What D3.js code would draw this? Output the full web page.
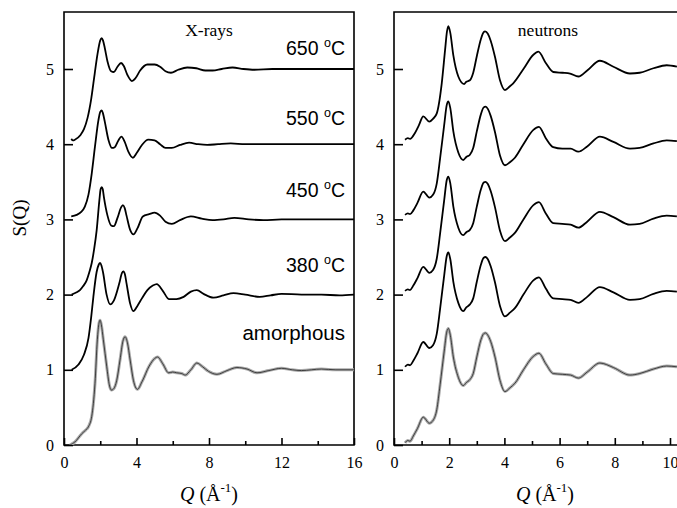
<!DOCTYPE html>
<html>
<head>
<meta charset="utf-8">
<script src="https://cdn.jsdelivr.net/npm/d3@7"></script>
<style>
  html, body { margin: 0; padding: 0; background: #fff; }
  svg { display: block; }
</style>
</head>
<body>
<svg id="chart" width="677" height="508"></svg>
<script>
// ---- Data: S(Q) curves, [Q (1/Å), S(Q)] before vertical offset ----
const sampleLabels = ["amorphous", "380", "450", "550", "650"];
const offsets = [0, 1, 2, 3, 4];

const xrayAmorphous = [[0.33,0.0],[0.6,0.04],[0.98,0.15],[1.2,0.2],[1.34,0.24],[1.53,0.38],[1.71,0.82],[1.84,1.40],[1.93,1.62],[1.99,1.66],[2.06,1.60],[2.17,1.40],[2.36,1.04],[2.5,0.8],[2.62,0.73],[2.75,0.75],[2.91,0.86],[3.09,1.13],[3.25,1.38],[3.37,1.44],[3.5,1.36],[3.65,1.13],[3.83,0.86],[4.05,0.74],[4.3,0.84],[4.7,1.05],[5.0,1.15],[5.16,1.17],[5.45,1.08],[5.77,0.96],[6.0,0.97],[6.22,0.96],[6.5,0.95],[6.69,0.93],[7.0,1.0],[7.33,1.09],[7.65,1.04],[7.97,0.98],[8.44,0.94],[9.0,0.99],[9.54,1.03],[10.1,1.01],[10.65,0.96],[11.3,0.99],[12.0,1.02],[12.6,1.0],[13.1,0.99],[14.2,1.01],[15.0,1.0],[16.0,1.0]];

const xray380 = [[0.42,0.0],[0.8,0.07],[1.1,0.2],[1.35,0.42],[1.5,0.7],[1.62,0.97],[1.8,1.3],[1.92,1.40],[1.99,1.42],[2.06,1.39],[2.15,1.3],[2.35,1.0],[2.55,0.87],[2.75,0.92],[3.05,1.15],[3.2,1.29],[3.28,1.31],[3.36,1.27],[3.45,1.15],[3.65,0.88],[3.83,0.78],[4.05,0.85],[4.3,0.95],[4.6,1.06],[4.9,1.12],[5.12,1.14],[5.45,1.05],[5.8,0.94],[6.2,0.94],[6.6,0.97],[7.0,1.04],[7.33,1.06],[7.7,1.01],[8.25,0.96],[8.8,0.99],[9.35,1.02],[10.0,1.0],[10.8,0.97],[11.4,0.99],[12.0,1.01],[13.1,1.0],[14.2,1.0],[15.2,0.99],[16.0,1.0]];

const xray450 = [[0.42,0.0],[0.7,0.03],[0.88,0.06],[1.05,0.11],[1.25,0.19],[1.4,0.3],[1.53,0.42],[1.66,0.6],[1.8,0.85],[1.95,1.25],[2.02,1.40],[2.08,1.43],[2.14,1.40],[2.2,1.3],[2.4,1.05],[2.6,0.92],[2.75,0.91],[2.95,1.02],[3.15,1.16],[3.25,1.19],[3.35,1.15],[3.45,1.05],[3.65,0.86],[3.83,0.8],[4.05,0.88],[4.35,1.04],[4.7,1.07],[5.0,1.09],[5.3,1.05],[5.6,0.97],[5.95,0.94],[6.4,0.99],[7.0,1.04],[7.6,1.01],[8.2,0.99],[8.8,1.0],[9.4,1.02],[10.2,1.0],[11.0,0.99],[12.0,1.0],[13.0,1.0],[14.0,1.0],[16.0,1.0]];

const xray550 = [[0.4,0.04],[0.7,0.06],[0.95,0.1],[1.15,0.17],[1.35,0.33],[1.53,0.61],[1.71,0.97],[1.9,1.32],[2.0,1.43],[2.08,1.45],[2.15,1.41],[2.25,1.3],[2.45,1.06],[2.65,0.95],[2.8,0.96],[3.0,1.05],[3.17,1.1],[3.35,1.03],[3.55,0.9],[3.8,0.82],[4.0,0.88],[4.3,0.99],[4.65,1.06],[5.0,1.05],[5.3,1.0],[5.6,0.95],[5.95,0.95],[6.4,0.99],[6.9,1.02],[7.4,1.0],[7.9,0.99],[8.5,1.0],[9.2,1.01],[10.0,1.0],[11.0,1.0],[12.5,1.0],[14.0,1.0],[16.0,1.0]];

const xray650 = [[0.4,0.07],[0.5,0.05],[0.6,0.06],[0.9,0.12],[1.1,0.2],[1.3,0.35],[1.5,0.6],[1.7,0.95],[1.85,1.2],[2.0,1.38],[2.08,1.41],[2.15,1.38],[2.25,1.28],[2.4,1.1],[2.6,0.97],[2.75,0.96],[2.95,1.03],[3.15,1.08],[3.3,1.04],[3.5,0.92],[3.75,0.84],[3.95,0.88],[4.2,0.98],[4.6,1.06],[5.0,1.06],[5.3,1.03],[5.6,0.97],[5.9,0.95],[6.3,0.99],[6.8,1.02],[7.3,1.01],[7.8,0.98],[8.2,0.98],[8.7,1.0],[9.3,1.02],[9.9,1.0],[10.5,0.99],[11.5,1.0],[12.5,1.0],[13.5,1.0],[14.5,1.0],[16.0,1.0]];

const neutronAmorphous = [[0.4,0.03],[0.5,0.06],[0.58,0.05],[0.7,0.12],[0.85,0.22],[1.06,0.37],[1.28,0.29],[1.42,0.33],[1.55,0.47],[1.67,0.8],[1.82,1.25],[1.91,1.5],[1.97,1.55],[2.04,1.46],[2.15,1.17],[2.33,0.9],[2.51,0.79],[2.62,0.83],[2.75,0.87],[2.87,0.95],[3.0,1.17],[3.15,1.4],[3.25,1.48],[3.32,1.49],[3.4,1.46],[3.5,1.38],[3.66,1.17],[3.84,0.86],[4.02,0.71],[4.2,0.76],[4.38,0.82],[4.69,1.0],[5.05,1.18],[5.25,1.22],[5.5,1.08],[5.77,0.95],[6.1,0.94],[6.4,0.93],[6.68,0.89],[7.0,0.97],[7.46,1.09],[7.95,1.03],[8.55,0.93],[8.9,0.95],[9.4,1.01],[9.88,1.05],[10.25,1.04]];

const neutron380 = [[0.4,0.04],[0.5,0.07],[0.58,0.06],[0.7,0.12],[0.85,0.22],[1.06,0.37],[1.28,0.29],[1.42,0.33],[1.55,0.48],[1.67,0.81],[1.82,1.26],[1.91,1.51],[1.97,1.56],[2.04,1.47],[2.15,1.17],[2.33,0.89],[2.51,0.78],[2.62,0.83],[2.75,0.87],[2.87,0.95],[3.0,1.17],[3.15,1.4],[3.25,1.49],[3.32,1.50],[3.4,1.47],[3.5,1.38],[3.66,1.16],[3.84,0.85],[4.02,0.71],[4.2,0.76],[4.38,0.82],[4.69,1.0],[5.05,1.19],[5.25,1.23],[5.5,1.08],[5.77,0.95],[6.1,0.94],[6.4,0.93],[6.68,0.89],[7.0,0.97],[7.46,1.10],[7.95,1.03],[8.55,0.93],[8.9,0.94],[9.4,1.01],[9.88,1.05],[10.25,1.04]];

const neutron450 = [[0.4,0.05],[0.5,0.07],[0.58,0.06],[0.7,0.12],[0.85,0.22],[1.06,0.37],[1.28,0.29],[1.42,0.33],[1.55,0.48],[1.67,0.81],[1.82,1.26],[1.91,1.52],[1.97,1.57],[2.04,1.48],[2.15,1.17],[2.33,0.89],[2.51,0.79],[2.62,0.83],[2.75,0.86],[2.87,0.95],[3.0,1.17],[3.15,1.4],[3.25,1.49],[3.32,1.50],[3.4,1.47],[3.5,1.38],[3.66,1.16],[3.84,0.85],[4.02,0.71],[4.2,0.76],[4.38,0.82],[4.69,1.0],[5.05,1.19],[5.25,1.23],[5.5,1.08],[5.77,0.95],[6.1,0.94],[6.4,0.93],[6.68,0.89],[7.0,0.97],[7.46,1.10],[7.95,1.03],[8.55,0.93],[8.9,0.94],[9.4,1.01],[9.88,1.05],[10.25,1.04]];

const neutron550 = [[0.4,0.06],[0.5,0.08],[0.58,0.07],[0.7,0.12],[0.85,0.22],[1.06,0.37],[1.28,0.29],[1.42,0.33],[1.55,0.48],[1.67,0.81],[1.82,1.26],[1.91,1.52],[1.97,1.57],[2.04,1.48],[2.15,1.17],[2.33,0.89],[2.51,0.79],[2.62,0.83],[2.75,0.86],[2.87,0.95],[3.0,1.17],[3.15,1.4],[3.25,1.49],[3.32,1.50],[3.4,1.47],[3.5,1.38],[3.66,1.16],[3.84,0.85],[4.02,0.72],[4.2,0.76],[4.38,0.82],[4.69,1.0],[5.05,1.19],[5.25,1.23],[5.5,1.08],[5.77,0.96],[6.1,0.94],[6.4,0.94],[6.68,0.90],[7.0,0.97],[7.46,1.10],[7.95,1.03],[8.55,0.94],[8.9,0.95],[9.4,1.01],[9.88,1.05],[10.25,1.04]];

const neutron650 = [[0.4,0.06],[0.5,0.08],[0.58,0.07],[0.76,0.15],[0.9,0.25],[1.06,0.37],[1.28,0.30],[1.42,0.34],[1.55,0.41],[1.73,0.81],[1.85,1.25],[1.92,1.50],[1.97,1.57],[2.04,1.48],[2.15,1.18],[2.33,0.90],[2.54,0.80],[2.62,0.83],[2.75,0.85],[2.87,0.95],[3.0,1.17],[3.15,1.4],[3.25,1.49],[3.30,1.50],[3.4,1.47],[3.5,1.38],[3.66,1.16],[3.84,0.85],[4.02,0.72],[4.2,0.77],[4.32,0.81],[4.69,1.0],[5.05,1.19],[5.23,1.23],[5.5,1.08],[5.77,0.96],[6.1,0.95],[6.38,0.94],[6.68,0.90],[7.0,0.98],[7.46,1.11],[7.95,1.03],[8.55,0.94],[8.9,0.95],[9.4,1.01],[9.88,1.05],[10.25,1.03]];

const xraySeries = [xrayAmorphous, xray380, xray450, xray550, xray650];
const neutronSeries = [neutronAmorphous, neutron380, neutron450, neutron550, neutron650];

// ---- Axis ticks ----
const yTicks = [0, 1, 2, 3, 4, 5];
const xrayMajorTicks = [0, 4, 8, 12, 16];
const xrayMinorTicks = [2, 6, 10, 14];
const neutronMajorTicks = [0, 2, 4, 6, 8, 10];
const neutronMinorTicks = [1, 3, 5, 7, 9];

// ---- Layout ----
const svg = d3.select("#chart");
const plotTop = 12, plotBottom = 445;
const y = d3.scaleLinear().domain([0, 5.758]).range([plotBottom, plotTop]);

const serif = "'Liberation Serif', 'Times New Roman', serif";
const sans = "'Liberation Sans', Arial, sans-serif";

function drawPanel(opts) {
  const x = d3.scaleLinear().domain(opts.domain).range([opts.left, opts.right]);
  const g = svg.append("g");

  // bottom axis: major and minor inward ticks
  const axMajor = g.append("g").attr("transform", `translate(0,${plotBottom})`)
    .call(d3.axisBottom(x).tickValues(opts.major).tickSizeInner(-7).tickSizeOuter(0).tickPadding(12).tickFormat(d3.format("d")));
  const axMinor = g.append("g").attr("transform", `translate(0,${plotBottom})`)
    .call(d3.axisBottom(x).tickValues(opts.minor).tickSizeInner(-4).tickSizeOuter(0).tickFormat(""));
  const axY = g.append("g").attr("transform", `translate(${opts.left},0)`)
    .call(d3.axisLeft(y).tickValues(yTicks).tickSizeInner(-9).tickSizeOuter(0).tickPadding(10).tickFormat(d3.format("d")));

  [axMajor, axMinor, axY].forEach(a => {
    a.select(".domain").remove();
    a.selectAll(".tick line").attr("stroke", "#000").attr("stroke-width", 1.6);
    a.selectAll("text").attr("font-family", serif).attr("font-size", 16).attr("fill", "#000");
  });

  // frame
  g.append("path")
    .attr("d", `M${opts.left},${plotBottom}V${plotTop}H${opts.right}V${plotBottom}Z`)
    .attr("fill", "none").attr("stroke", "#000").attr("stroke-width", 1.6);

  const clipId = "clip-" + opts.name;
  svg.append("clipPath").attr("id", clipId).append("rect")
    .attr("x", opts.left).attr("y", plotTop).attr("width", opts.right - opts.left).attr("height", plotBottom - plotTop);

  const curves = g.append("g").attr("clip-path", `url(#${clipId})`);
  opts.series.forEach((data, i) => {
    const line = d3.line()
      .x(d => x(d[0]))
      .y(d => y(d[1] + offsets[i]))
      .curve(d3.curveMonotoneX);
    if (i === 0) {
      // measured data (grey) with the fitted curve drawn over it
      curves.append("path").datum(data).attr("d", line)
        .attr("fill", "none").attr("stroke", "#ababab").attr("stroke-width", 3)
        .attr("stroke-linejoin", "round");
      curves.append("path").datum(data).attr("d", line)
        .attr("fill", "none").attr("stroke", "#222").attr("stroke-width", 0.8)
        .attr("stroke-linejoin", "round");
    } else {
      curves.append("path").datum(data).attr("d", line)
        .attr("fill", "none").attr("stroke", "#000").attr("stroke-width", 1.8)
        .attr("stroke-linejoin", "round");
    }
  });

  // panel title
  g.append("text").attr("x", opts.titleX).attr("y", 36)
    .attr("text-anchor", "middle")
    .attr("font-family", serif).attr("font-size", 17.5).text(opts.title);

  // x-axis title: Q (Å⁻¹)
  const xt = g.append("text").attr("x", opts.xTitleX).attr("y", 501)
    .attr("text-anchor", "middle").attr("font-family", serif).attr("font-size", 20);
  xt.append("tspan").attr("font-style", "italic").text("Q");
  xt.append("tspan").text(" (Å");
  xt.append("tspan").attr("font-size", 13).attr("dy", -9).text("-1");
  xt.append("tspan").attr("dy", 9).text(")");

  return x;
}

drawPanel({
  name: "xray", left: 64, right: 354, domain: [0, 16],
  major: xrayMajorTicks, minor: xrayMinorTicks,
  series: xraySeries, title: "X-rays", titleX: 209, xTitleX: 209
});
drawPanel({
  name: "neutron", left: 394, right: 678, domain: [0, 10.29],
  major: neutronMajorTicks, minor: neutronMinorTicks,
  series: neutronSeries, title: "neutrons", titleX: 548, xTitleX: 545
});

// temperature / state labels on the X-ray panel
const labelY = [340, 272, 197, 125, 55];
sampleLabels.forEach((lab, i) => {
  const t = svg.append("text").attr("x", 345).attr("y", labelY[i])
    .attr("text-anchor", "end").attr("font-family", sans).attr("font-size", 19.5).attr("fill", "#000");
  if (lab === "amorphous") {
    t.attr("font-size", 20.5).text(lab);
  } else {
    t.append("tspan").text(lab + " ");
    t.append("tspan").attr("font-size", 12.5).attr("dy", -8).text("o");
    t.append("tspan").attr("dy", 8).text("C");
  }
});

// y-axis title
svg.append("text")
  .attr("transform", "translate(26,218) rotate(-90)")
  .attr("text-anchor", "middle").attr("font-family", serif).attr("font-size", 19)
  .text("S(Q)");
</script>
</body>
</html>
